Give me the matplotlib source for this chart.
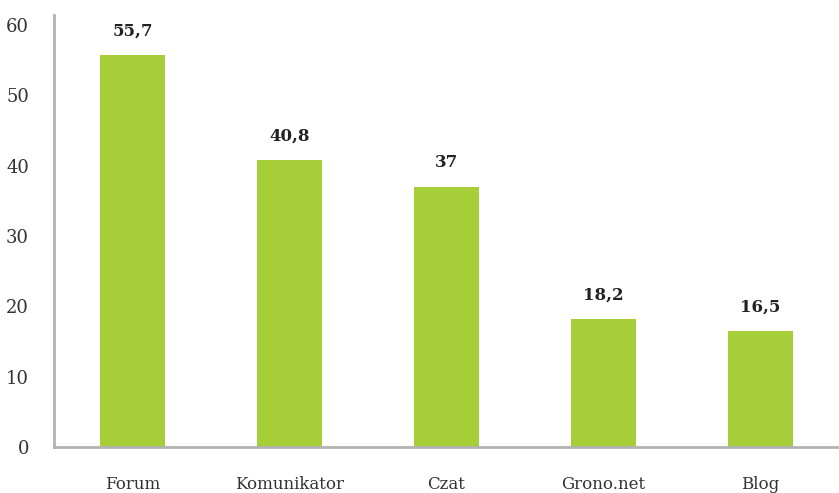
import matplotlib
matplotlib.use("Agg")
import matplotlib.pyplot as plt

categories = ["Forum", "Komunikator", "Czat", "Grono.net", "Blog"]
values = [55.7, 40.8, 37, 18.2, 16.5]
yticks = [0, 10, 20, 30, 40, 50, 60]

bar_color = "#a6ce39"
axis_color = "#b3b3b3"
text_color = "#333333"

def fmt(v):
	# polish decimal comma
	s = "{:g}".format(v)
	return s.replace(".", ",")

fig = plt.figure(figsize=(8.39, 4.93), dpi=100)
ax = fig.add_axes([0.0644, 0.0933, 0.9356, 0.8763])

x = list(range(len(categories)))
ax.bar(x, values, width=0.42, color=bar_color, zorder=2)

for xi, v in zip(x, values):
	ax.annotate(fmt(v), (xi, v), xytext=(0, 11), textcoords="offset points",
		ha="center", va="bottom", fontsize=12, fontweight="bold",
		family="DejaVu Serif", color="#222222")

ax.set_xlim(-0.5, len(categories) - 0.5)
ax.set_ylim(0, 61.4)
ax.set_yticks(yticks)
ax.set_xticks(x)
ax.set_xticklabels(categories)

for side in ["top", "right"]:
	ax.spines[side].set_visible(False)
for side in ["left", "bottom"]:
	ax.spines[side].set_color(axis_color)
	ax.spines[side].set_linewidth(2)

ax.tick_params(axis="both", length=0, labelcolor=text_color)
ax.tick_params(axis="y", pad=18, labelsize=13)
ax.tick_params(axis="x", pad=21, labelsize=12)
for lbl in ax.get_xticklabels() + ax.get_yticklabels():
	lbl.set_family("DejaVu Serif")

plt.savefig("out.png", dpi=100)
